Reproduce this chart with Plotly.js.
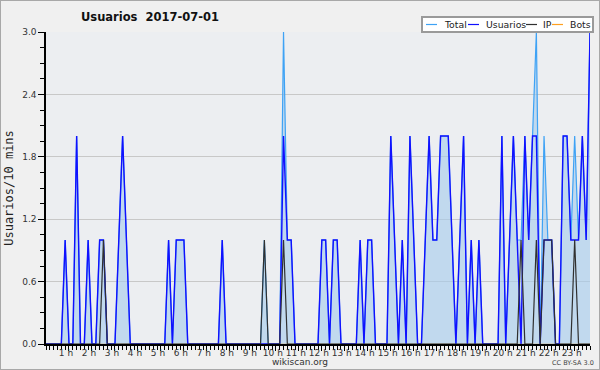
<!DOCTYPE html>
<html>
<head>
<meta charset="utf-8">
<script src="https://cdn.plot.ly/plotly-3.0.1.min.js"></script>
<style>
html,body{margin:0;padding:0;background:#f0f0f0;}
#chart{width:598px;height:368px;border:1px solid #a8a8a8;}
</style>
</head>
<body>
<div id="chart"></div>
<script>
// 10-minute bins, index 0 = 00:00
const usuariosPoints = {5:1,8:2,11:1,14:1,15:1,19:1,20:2,21:1,32:1,34:1,35:1,36:1,46:1,
  62:2,63:1,64:1,72:1,73:1,75:1,76:1,82:1,84:1,85:1,90:2,91:1,93:1,95:2,96:1,
  99:1,100:2,101:1,102:1,103:2,104:2,105:2,106:1,108:1,109:2,111:1,113:1,119:2,
  121:1,122:2,123:1,125:2,126:1,127:2,128:2,130:1,131:1,132:1,135:2,136:2,137:1,138:1,139:1,140:2,141:1,142:3};
const ipPoints = {15:1,57:1,62:1,124:1,128:1,130:1,131:1,132:1,138:1};
const totalPoints = {5:1,8:2,11:1,14:1,15:1,19:1,20:2,21:1,32:1,34:1,35:1,36:1,46:1,57:1,
  62:3,63:1,64:1,72:1,73:1,75:1,76:1,82:1,84:1,85:1,90:2,91:1,93:1,95:2,96:1,
  99:1,100:2,101:1,102:1,103:2,104:2,105:2,106:1,108:1,109:2,111:1,113:1,119:2,
  121:1,122:2,123:1,124:1,125:2,126:1,127:2,128:3,130:2,131:1,132:1,135:2,136:2,137:1,138:2,139:1,140:2,141:1,142:3};
const botsPoints = {};
const nBins = 143;
const hourLabels = ["1 h","2 h","3 h","4 h","5 h","6 h","7 h","8 h","9 h","10 h","11 h","12 h",
  "13 h","14 h","15 h","16 h","17 h","18 h","19 h","20 h","21 h","22 h","23 h"];

const xs = Array.from({length:nBins},(_,i)=>i);
const series = p => xs.map(i => p[i] || 0);
const total = series(totalPoints), usuarios = series(usuariosPoints),
      ip = series(ipPoints), bots = series(botsPoints);

const traces = [
  {x:xs,y:bots,name:'Bots',type:'scatter',mode:'lines',line:{color:'#ffa020',width:1}},
  {x:xs,y:total,name:'Total',type:'scatter',mode:'lines',fill:'tozeroy',
   fillcolor:'rgba(165,203,236,0.6)',line:{color:'#3ea2f5',width:1.2}},
  {x:xs,y:usuarios,name:'Usuarios',type:'scatter',mode:'lines',line:{color:'#1010ff',width:1.4}},
  {x:xs,y:ip,name:'IP',type:'scatter',mode:'lines',line:{color:'#303030',width:1.2}}
];

const W=600,H=370,L=46,R=10,T=32,B=26;
const pw=W-L-R, ph=H-T-B;
const px = v => (v-L)/pw, py = v => (H-B-v)/ph;

const legendItems = [
  {name:'Total',color:'#3ea2f5',x0:426,tx:442},
  {name:'Usuarios',color:'#1010ff',x0:468,tx:484},
  {name:'IP',color:'#303030',x0:526,tx:541},
  {name:'Bots',color:'#ffa020',x0:552,tx:568}
];
const shapes=[{type:'rect',xref:'paper',yref:'paper',x0:px(422),x1:px(593),y0:py(32),y1:py(17),
  fillcolor:'#ffffff',line:{color:'#9a9a9a',width:2},layer:'above'}];
const annotations=[];
legendItems.forEach(it=>{
  shapes.push({type:'line',xref:'paper',yref:'paper',x0:px(it.x0),x1:px(it.x0+11),y0:py(24.5),y1:py(24.5),
    line:{color:it.color,width:1.2},layer:'above'});
  annotations.push({xref:'paper',yref:'paper',x:px(it.tx),y:py(24.7),xanchor:'left',yanchor:'middle',
    text:it.name,showarrow:false,font:{family:'DejaVu Sans',size:9.3,color:'#222'}});
});
annotations.push({xref:'paper',yref:'paper',x:px(300),y:py(362),xanchor:'center',yanchor:'middle',
  text:'wikiscan.org',showarrow:false,font:{family:'DejaVu Sans',size:9,color:'#333'}});
annotations.push({xref:'paper',yref:'paper',x:px(596),y:py(363),xanchor:'right',yanchor:'middle',
  text:'CC BY-SA 3.0',showarrow:false,font:{family:'DejaVu Sans',size:6.5,color:'#444'}});

const layout = {
  width:W-2,height:H-2,
  margin:{l:L-1,r:R-1,t:T-1,b:B-1,pad:0},
  paper_bgcolor:'#f0f0f0',plot_bgcolor:'#eceef1',
  showlegend:false,
  title:{text:'<b>Usuarios  2017-07-01</b>',x:px(150),xref:'paper',xanchor:'center',y:1-16/H,yanchor:'middle',
    font:{family:'DejaVu Sans',size:11.5,color:'#111'}},
  xaxis:{range:[0,nBins-1],showgrid:false,zeroline:false,showline:true,linecolor:'#000',linewidth:1.6,
    tickvals:hourLabels.map((_,i)=>(i+1)*6),ticktext:hourLabels,ticks:'outside',ticklen:5,tickcolor:'#000',
    ticklabelshift:-3,ticklabelstandoff:-5,tickfont:{family:'DejaVu Sans',size:9,color:'#333'},
    minor:{dtick:1,tick0:0,ticks:'outside',ticklen:4,tickcolor:'#000',showgrid:false},fixedrange:true},
  yaxis:{range:[0,3],showgrid:true,gridcolor:'#c8c8c8',gridwidth:1,zeroline:false,showline:true,linecolor:'#000',linewidth:1.6,
    tickvals:[0,0.6,1.2,1.8,2.4,3.0],ticktext:['0.0','0.6','1.2','1.8','2.4','3.0'],ticks:'outside',ticklen:6,tickcolor:'#000',
    tickfont:{family:'DejaVu Sans',size:9,color:'#333'},
    minor:{dtick:0.15,tick0:0,ticks:'outside',ticklen:4,tickcolor:'#000',showgrid:false},
    title:{text:'Usuarios/10 mins',font:{family:'DejaVu Sans Mono',size:12,color:'#222'},standoff:6},fixedrange:true},
  shapes:shapes,annotations:annotations
};
Plotly.newPlot('chart',traces,layout,{displayModeBar:false,staticPlot:true});
</script>
</body>
</html>
